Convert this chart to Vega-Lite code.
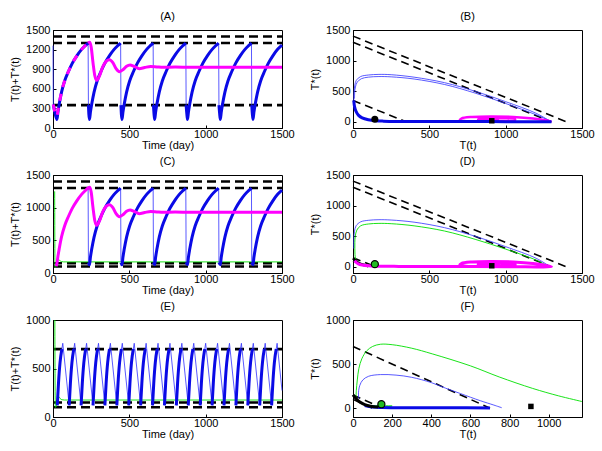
{
"$schema": "https://vega.github.io/schema/vega-lite/v6.json",
"background": "white",
"padding": {"left": 9, "top": 10, "right": 5, "bottom": 5},
"config": {
  "view": {"stroke": "black", "strokeWidth": 1},
  "font": "Liberation Sans",
  "title": {"fontSize": 11, "font": "Liberation Sans", "fontWeight": "normal", "offset": 2, "color": "black"},
  "axis": {"domainColor": "black", "tickColor": "black", "labelColor": "black", "titleColor": "black", "labelFont": "Liberation Sans", "titleFont": "Liberation Sans", "labelFontSize": 11, "titleFontSize": 11, "titleFontWeight": "normal", "grid": false, "tickSize": -3, "labelPadding": 6, "labelFlush": false, "labelOverlap": false},
  "axisX": {"titlePadding": 0, "labelPadding": 3},
  "axisY": {"titlePadding": 5}
},
"datasets": {
  "A_thr": [{"g":1,"t":0,"v":1400},{"g":1,"t":1500,"v":1400},{"g":2,"t":0,"v":1300},{"g":2,"t":1500,"v":1300},{"g":3,"t":0,"v":350},{"g":3,"t":1500,"v":350}],
  "A_thin": [{"g":1,"t":0,"v":1260},{"g":1,"t":2,"v":360},{"g":2,"t":230,"v":1300},{"g":2,"t":232,"v":350},{"g":3,"t":443,"v":1300},{"g":3,"t":445,"v":350},{"g":4,"t":656,"v":1300},{"g":4,"t":658,"v":350},{"g":5,"t":870,"v":1300},{"g":5,"t":872,"v":350},{"g":6,"t":1085,"v":1300},{"g":6,"t":1087,"v":350},{"g":7,"t":1300,"v":1300},{"g":7,"t":1302,"v":350}],
  "A_thick": [
    {"g":1,"t":2,"v":360},{"g":1,"t":12,"v":240},{"g":1,"t":26,"v":130},{"g":1,"t":32,"v":240},{"g":1,"t":41,"v":370},{"g":1,"t":56,"v":550},{"g":1,"t":76,"v":720},{"g":1,"t":101,"v":865},{"g":1,"t":126,"v":990},{"g":1,"t":156,"v":1105},{"g":1,"t":186,"v":1200},{"g":1,"t":211,"v":1260},{"g":1,"t":230,"v":1300},
    {"g":2,"t":232,"v":350},{"g":2,"t":235,"v":210},{"g":2,"t":239,"v":130},{"g":2,"t":245,"v":240},{"g":2,"t":254,"v":370},{"g":2,"t":269,"v":550},{"g":2,"t":289,"v":720},{"g":2,"t":314,"v":865},{"g":2,"t":339,"v":990},{"g":2,"t":369,"v":1105},{"g":2,"t":399,"v":1200},{"g":2,"t":424,"v":1260},{"g":2,"t":443,"v":1300},
    {"g":3,"t":445,"v":350},{"g":3,"t":448,"v":210},{"g":3,"t":452,"v":130},{"g":3,"t":458,"v":240},{"g":3,"t":467,"v":370},{"g":3,"t":482,"v":550},{"g":3,"t":502,"v":720},{"g":3,"t":527,"v":865},{"g":3,"t":552,"v":990},{"g":3,"t":582,"v":1105},{"g":3,"t":612,"v":1200},{"g":3,"t":637,"v":1260},{"g":3,"t":656,"v":1300},
    {"g":4,"t":658,"v":350},{"g":4,"t":662,"v":210},{"g":4,"t":666,"v":130},{"g":4,"t":672,"v":240},{"g":4,"t":681,"v":370},{"g":4,"t":696,"v":550},{"g":4,"t":716,"v":720},{"g":4,"t":741,"v":865},{"g":4,"t":766,"v":990},{"g":4,"t":796,"v":1105},{"g":4,"t":826,"v":1200},{"g":4,"t":851,"v":1260},{"g":4,"t":870,"v":1300},
    {"g":5,"t":872,"v":350},{"g":5,"t":877,"v":210},{"g":5,"t":881,"v":130},{"g":5,"t":887,"v":240},{"g":5,"t":896,"v":370},{"g":5,"t":911,"v":550},{"g":5,"t":931,"v":720},{"g":5,"t":956,"v":865},{"g":5,"t":981,"v":990},{"g":5,"t":1011,"v":1105},{"g":5,"t":1041,"v":1200},{"g":5,"t":1066,"v":1260},{"g":5,"t":1085,"v":1300},
    {"g":6,"t":1087,"v":350},{"g":6,"t":1092,"v":210},{"g":6,"t":1096,"v":130},{"g":6,"t":1102,"v":240},{"g":6,"t":1111,"v":370},{"g":6,"t":1126,"v":550},{"g":6,"t":1146,"v":720},{"g":6,"t":1171,"v":865},{"g":6,"t":1196,"v":990},{"g":6,"t":1226,"v":1105},{"g":6,"t":1256,"v":1200},{"g":6,"t":1281,"v":1260},{"g":6,"t":1300,"v":1300},
    {"g":7,"t":1302,"v":350},{"g":7,"t":1306,"v":210},{"g":7,"t":1310,"v":130},{"g":7,"t":1316,"v":240},{"g":7,"t":1325,"v":370},{"g":7,"t":1340,"v":550},{"g":7,"t":1360,"v":720},{"g":7,"t":1385,"v":865},{"g":7,"t":1410,"v":990},{"g":7,"t":1440,"v":1105},{"g":7,"t":1470,"v":1200},{"g":7,"t":1500,"v":1268}
  ],
  "A_mag1": [{"t":2,"v":360},{"t":12,"v":250},{"t":26,"v":180},{"t":32,"v":260},{"t":41,"v":380},{"t":56,"v":555},{"t":76,"v":720},{"t":101,"v":865},{"t":126,"v":990},{"t":156,"v":1105},{"t":186,"v":1200},{"t":211,"v":1260},{"t":230,"v":1300}],
  "A_mag2": [{"t":230,"v":1300},{"t":240,"v":1312},{"t":250,"v":1240},{"t":262,"v":1000},{"t":274,"v":800},{"t":287,"v":730},{"t":303,"v":790},{"t":325,"v":930},{"t":348,"v":1020},{"t":370,"v":1045},{"t":392,"v":1000},{"t":413,"v":910},{"t":435,"v":862},{"t":460,"v":895},{"t":482,"v":945},{"t":505,"v":965},{"t":530,"v":945},{"t":565,"v":908},{"t":600,"v":925},{"t":640,"v":942},{"t":680,"v":935},{"t":720,"v":928},{"t":800,"v":933},{"t":900,"v":930},{"t":1500,"v":930}],
  "C_thr": [{"g":1,"t":0,"v":1400},{"g":1,"t":1500,"v":1400},{"g":2,"t":0,"v":1300},{"g":2,"t":1500,"v":1300},{"g":3,"t":0,"v":150},{"g":3,"t":1500,"v":150},{"g":4,"t":0,"v":100},{"g":4,"t":1500,"v":100}],
  "C_thin": [{"g":2,"t":230,"v":1300},{"g":2,"t":232,"v":160},{"g":3,"t":443,"v":1300},{"g":3,"t":445,"v":160},{"g":4,"t":656,"v":1300},{"g":4,"t":658,"v":160},{"g":5,"t":870,"v":1300},{"g":5,"t":872,"v":160},{"g":6,"t":1085,"v":1300},{"g":6,"t":1087,"v":160},{"g":7,"t":1300,"v":1300},{"g":7,"t":1302,"v":160}],
  "C_thick": [
    {"g":2,"t":232,"v":160},{"g":2,"t":239,"v":125},{"g":2,"t":245,"v":240},{"g":2,"t":254,"v":370},{"g":2,"t":269,"v":550},{"g":2,"t":289,"v":720},{"g":2,"t":314,"v":865},{"g":2,"t":339,"v":990},{"g":2,"t":369,"v":1105},{"g":2,"t":399,"v":1200},{"g":2,"t":424,"v":1260},{"g":2,"t":443,"v":1300},
    {"g":3,"t":445,"v":160},{"g":3,"t":452,"v":125},{"g":3,"t":458,"v":240},{"g":3,"t":467,"v":370},{"g":3,"t":482,"v":550},{"g":3,"t":502,"v":720},{"g":3,"t":527,"v":865},{"g":3,"t":552,"v":990},{"g":3,"t":582,"v":1105},{"g":3,"t":612,"v":1200},{"g":3,"t":637,"v":1260},{"g":3,"t":656,"v":1300},
    {"g":4,"t":658,"v":160},{"g":4,"t":666,"v":125},{"g":4,"t":672,"v":240},{"g":4,"t":681,"v":370},{"g":4,"t":696,"v":550},{"g":4,"t":716,"v":720},{"g":4,"t":741,"v":865},{"g":4,"t":766,"v":990},{"g":4,"t":796,"v":1105},{"g":4,"t":826,"v":1200},{"g":4,"t":851,"v":1260},{"g":4,"t":870,"v":1300},
    {"g":5,"t":872,"v":160},{"g":5,"t":881,"v":125},{"g":5,"t":887,"v":240},{"g":5,"t":896,"v":370},{"g":5,"t":911,"v":550},{"g":5,"t":931,"v":720},{"g":5,"t":956,"v":865},{"g":5,"t":981,"v":990},{"g":5,"t":1011,"v":1105},{"g":5,"t":1041,"v":1200},{"g":5,"t":1066,"v":1260},{"g":5,"t":1085,"v":1300},
    {"g":6,"t":1087,"v":160},{"g":6,"t":1096,"v":125},{"g":6,"t":1102,"v":240},{"g":6,"t":1111,"v":370},{"g":6,"t":1126,"v":550},{"g":6,"t":1146,"v":720},{"g":6,"t":1171,"v":865},{"g":6,"t":1196,"v":990},{"g":6,"t":1226,"v":1105},{"g":6,"t":1256,"v":1200},{"g":6,"t":1281,"v":1260},{"g":6,"t":1300,"v":1300},
    {"g":7,"t":1302,"v":160},{"g":7,"t":1310,"v":125},{"g":7,"t":1316,"v":240},{"g":7,"t":1325,"v":370},{"g":7,"t":1340,"v":550},{"g":7,"t":1360,"v":720},{"g":7,"t":1385,"v":865},{"g":7,"t":1410,"v":990},{"g":7,"t":1440,"v":1105},{"g":7,"t":1470,"v":1200},{"g":7,"t":1500,"v":1268}
  ],
  "C_mag": [{"t":20,"v":105},{"t":26,"v":150},{"t":32,"v":250},{"t":41,"v":375},{"t":56,"v":555},{"t":76,"v":720},{"t":101,"v":865},{"t":126,"v":990},{"t":156,"v":1105},{"t":186,"v":1200},{"t":211,"v":1260},{"t":230,"v":1300},{"t":240,"v":1312},{"t":250,"v":1240},{"t":262,"v":1000},{"t":274,"v":800},{"t":287,"v":730},{"t":303,"v":790},{"t":325,"v":930},{"t":348,"v":1020},{"t":370,"v":1045},{"t":392,"v":1000},{"t":413,"v":910},{"t":435,"v":862},{"t":460,"v":895},{"t":482,"v":945},{"t":505,"v":965},{"t":530,"v":945},{"t":565,"v":908},{"t":600,"v":925},{"t":640,"v":942},{"t":680,"v":935},{"t":720,"v":928},{"t":800,"v":933},{"t":900,"v":930},{"t":1500,"v":930}],
  "C_green": [{"t":11,"v":1250},{"t":13,"v":90},{"t":20,"v":100},{"t":28,"v":170},{"t":36,"v":205},{"t":45,"v":190},{"t":55,"v":175},{"t":70,"v":170},{"t":1500,"v":170}],
  "E_thr": [{"g":1,"t":0,"v":700},{"g":1,"t":1500,"v":700},{"g":2,"t":0,"v":150},{"g":2,"t":1500,"v":150},{"g":3,"t":0,"v":100},{"g":3,"t":1500,"v":100}],
  "E_green": [{"t":12,"v":1000},{"t":15,"v":100},{"t":22,"v":110},{"t":30,"v":180},{"t":38,"v":210},{"t":47,"v":190},{"t":58,"v":178},{"t":75,"v":175},{"t":1500,"v":175}],
  "E_thick": [
    {"g":0,"t":28,"v":120},{"g":0,"t":36,"v":350},{"g":0,"t":46,"v":560},{"g":0,"t":58,"v":700},
    {"g":1,"t":106,"v":120},{"g":1,"t":114,"v":350},{"g":1,"t":124,"v":560},{"g":1,"t":136,"v":700},
    {"g":2,"t":184,"v":120},{"g":2,"t":192,"v":350},{"g":2,"t":202,"v":560},{"g":2,"t":214,"v":700},
    {"g":3,"t":262,"v":120},{"g":3,"t":270,"v":350},{"g":3,"t":280,"v":560},{"g":3,"t":292,"v":700},
    {"g":4,"t":340,"v":120},{"g":4,"t":348,"v":350},{"g":4,"t":358,"v":560},{"g":4,"t":370,"v":700},
    {"g":5,"t":418,"v":120},{"g":5,"t":426,"v":350},{"g":5,"t":436,"v":560},{"g":5,"t":448,"v":700},
    {"g":6,"t":496,"v":120},{"g":6,"t":504,"v":350},{"g":6,"t":514,"v":560},{"g":6,"t":526,"v":700},
    {"g":7,"t":574,"v":120},{"g":7,"t":582,"v":350},{"g":7,"t":592,"v":560},{"g":7,"t":604,"v":700},
    {"g":8,"t":652,"v":120},{"g":8,"t":660,"v":350},{"g":8,"t":670,"v":560},{"g":8,"t":682,"v":700},
    {"g":9,"t":730,"v":120},{"g":9,"t":738,"v":350},{"g":9,"t":748,"v":560},{"g":9,"t":760,"v":700},
    {"g":10,"t":808,"v":120},{"g":10,"t":816,"v":350},{"g":10,"t":826,"v":560},{"g":10,"t":838,"v":700},
    {"g":11,"t":886,"v":120},{"g":11,"t":894,"v":350},{"g":11,"t":904,"v":560},{"g":11,"t":916,"v":700},
    {"g":12,"t":964,"v":120},{"g":12,"t":972,"v":350},{"g":12,"t":982,"v":560},{"g":12,"t":994,"v":700},
    {"g":13,"t":1042,"v":120},{"g":13,"t":1050,"v":350},{"g":13,"t":1060,"v":560},{"g":13,"t":1072,"v":700},
    {"g":14,"t":1120,"v":120},{"g":14,"t":1128,"v":350},{"g":14,"t":1138,"v":560},{"g":14,"t":1150,"v":700},
    {"g":15,"t":1198,"v":120},{"g":15,"t":1206,"v":350},{"g":15,"t":1216,"v":560},{"g":15,"t":1228,"v":700},
    {"g":16,"t":1276,"v":120},{"g":16,"t":1284,"v":350},{"g":16,"t":1294,"v":560},{"g":16,"t":1306,"v":700},
    {"g":17,"t":1354,"v":120},{"g":17,"t":1362,"v":350},{"g":17,"t":1372,"v":560},{"g":17,"t":1384,"v":700},
    {"g":18,"t":1432,"v":120},{"g":18,"t":1440,"v":350},{"g":18,"t":1450,"v":560},{"g":18,"t":1462,"v":700}
  ],
  "E_thin": [
    {"g":0,"t":58,"v":700},{"g":0,"t":64,"v":760},{"g":0,"t":106,"v":120},
    {"g":1,"t":136,"v":700},{"g":1,"t":142,"v":760},{"g":1,"t":184,"v":120},
    {"g":2,"t":214,"v":700},{"g":2,"t":220,"v":760},{"g":2,"t":262,"v":120},
    {"g":3,"t":292,"v":700},{"g":3,"t":298,"v":760},{"g":3,"t":340,"v":120},
    {"g":4,"t":370,"v":700},{"g":4,"t":376,"v":760},{"g":4,"t":418,"v":120},
    {"g":5,"t":448,"v":700},{"g":5,"t":454,"v":760},{"g":5,"t":496,"v":120},
    {"g":6,"t":526,"v":700},{"g":6,"t":532,"v":760},{"g":6,"t":574,"v":120},
    {"g":7,"t":604,"v":700},{"g":7,"t":610,"v":760},{"g":7,"t":652,"v":120},
    {"g":8,"t":682,"v":700},{"g":8,"t":688,"v":760},{"g":8,"t":730,"v":120},
    {"g":9,"t":760,"v":700},{"g":9,"t":766,"v":760},{"g":9,"t":808,"v":120},
    {"g":10,"t":838,"v":700},{"g":10,"t":844,"v":760},{"g":10,"t":886,"v":120},
    {"g":11,"t":916,"v":700},{"g":11,"t":922,"v":760},{"g":11,"t":964,"v":120},
    {"g":12,"t":994,"v":700},{"g":12,"t":1000,"v":760},{"g":12,"t":1042,"v":120},
    {"g":13,"t":1072,"v":700},{"g":13,"t":1078,"v":760},{"g":13,"t":1120,"v":120},
    {"g":14,"t":1150,"v":700},{"g":14,"t":1156,"v":760},{"g":14,"t":1198,"v":120},
    {"g":15,"t":1228,"v":700},{"g":15,"t":1234,"v":760},{"g":15,"t":1276,"v":120},
    {"g":16,"t":1306,"v":700},{"g":16,"t":1312,"v":760},{"g":16,"t":1354,"v":120},
    {"g":17,"t":1384,"v":700},{"g":17,"t":1390,"v":760},{"g":17,"t":1432,"v":120},
    {"g":18,"t":1462,"v":700},{"g":18,"t":1468,"v":760},{"g":18,"t":1500,"v":273}
  ],
  "B_dash": [{"g":1,"T":0,"S":1400},{"g":1,"T":1400,"S":0},{"g":2,"T":0,"S":1300},{"g":2,"T":1300,"S":0},{"g":3,"T":0,"S":350},{"g":3,"T":350,"S":0}],
  "B_thin": [
    {"g":1,"T":5,"S":350},{"g":1,"T":5,"S":420},{"g":1,"T":7,"S":500},{"g":1,"T":12,"S":600},{"g":1,"T":22,"S":680},{"g":1,"T":50,"S":740},{"g":1,"T":100,"S":765},{"g":1,"T":170,"S":775},{"g":1,"T":250,"S":770},{"g":1,"T":400,"S":730},{"g":1,"T":600,"S":640},{"g":1,"T":800,"S":500},{"g":1,"T":1000,"S":330},{"g":1,"T":1200,"S":140},{"g":1,"T":1295,"S":5},
    {"g":2,"T":10,"S":380},{"g":2,"T":11,"S":480},{"g":2,"T":16,"S":570},{"g":2,"T":28,"S":650},{"g":2,"T":55,"S":705},{"g":2,"T":100,"S":730},{"g":2,"T":170,"S":740},{"g":2,"T":250,"S":735},{"g":2,"T":400,"S":700},{"g":2,"T":600,"S":610},{"g":2,"T":800,"S":470},{"g":2,"T":1000,"S":300},{"g":2,"T":1200,"S":115},{"g":2,"T":1300,"S":5}
  ],
  "B_thick": [{"T":5,"S":350},{"T":10,"S":250},{"T":20,"S":170},{"T":35,"S":110},{"T":60,"S":65},{"T":100,"S":35},{"T":150,"S":18},{"T":200,"S":12},{"T":300,"S":8},{"T":500,"S":6},{"T":800,"S":5},{"T":1000,"S":4},{"T":1300,"S":3}],
  "B_mag": [{"T":1300,"S":3},{"T":1260,"S":25},{"T":1180,"S":55},{"T":1050,"S":80},{"T":900,"S":88},{"T":780,"S":80},{"T":710,"S":55},{"T":700,"S":30},{"T":740,"S":12},{"T":850,"S":5},{"T":980,"S":10},{"T":1060,"S":25},{"T":1060,"S":45},{"T":980,"S":58},{"T":880,"S":57},{"T":820,"S":42},{"T":830,"S":25},{"T":890,"S":16},{"T":950,"S":22},{"T":940,"S":32},{"T":910,"S":25}],
  "P_circle": [{"T":143,"S":44}],
  "P_square": [{"T":909,"S":18}],
  "D_dash": [{"g":1,"T":0,"S":1400},{"g":1,"T":1400,"S":0},{"g":2,"T":0,"S":1300},{"g":2,"T":1300,"S":0},{"g":3,"T":0,"S":150},{"g":3,"T":150,"S":0},{"g":4,"T":0,"S":100},{"g":4,"T":100,"S":0}],
  "D_blue": [{"T":5,"S":300},{"T":5,"S":380},{"T":6,"S":480},{"T":10,"S":580},{"T":20,"S":670},{"T":50,"S":735},{"T":100,"S":760},{"T":170,"S":770},{"T":250,"S":765},{"T":400,"S":730},{"T":600,"S":640},{"T":800,"S":500},{"T":1000,"S":330},{"T":1200,"S":140},{"T":1290,"S":5}],
  "D_green": [{"T":18,"S":110},{"T":13,"S":200},{"T":12,"S":300},{"T":12,"S":400},{"T":15,"S":500},{"T":25,"S":600},{"T":50,"S":670},{"T":100,"S":700},{"T":170,"S":710},{"T":250,"S":705},{"T":400,"S":670},{"T":600,"S":585},{"T":800,"S":450},{"T":1000,"S":290},{"T":1200,"S":110},{"T":1280,"S":5}],
  "D_black": [{"T":0,"S":140},{"T":15,"S":105},{"T":35,"S":65},{"T":60,"S":38},{"T":85,"S":25}],
  "D_mag": [{"T":12,"S":105},{"T":20,"S":75},{"T":35,"S":48},{"T":60,"S":30},{"T":100,"S":18},{"T":150,"S":12},{"T":300,"S":8},{"T":600,"S":6},{"T":1000,"S":4},{"T":1300,"S":3},{"T":1260,"S":25},{"T":1180,"S":55},{"T":1050,"S":80},{"T":900,"S":88},{"T":780,"S":80},{"T":710,"S":55},{"T":700,"S":30},{"T":740,"S":12},{"T":850,"S":5},{"T":980,"S":10},{"T":1060,"S":25},{"T":1060,"S":45},{"T":980,"S":58},{"T":880,"S":57},{"T":820,"S":42},{"T":830,"S":25},{"T":890,"S":16},{"T":950,"S":22},{"T":940,"S":32},{"T":910,"S":25}],
  "F_dash": [{"g":1,"T":0,"S":700},{"g":1,"T":700,"S":0},{"g":2,"T":0,"S":150},{"g":2,"T":150,"S":0},{"g":3,"T":0,"S":100},{"g":3,"T":100,"S":0}],
  "F_green": [{"g":1,"T":15,"S":112},{"g":1,"T":17,"S":200},{"g":1,"T":22,"S":320},{"g":1,"T":30,"S":450},{"g":1,"T":45,"S":560},{"g":1,"T":70,"S":650},{"g":1,"T":100,"S":700},{"g":1,"T":140,"S":725},{"g":1,"T":200,"S":720},{"g":1,"T":300,"S":680},{"g":1,"T":405,"S":616},{"g":1,"T":600,"S":480},{"g":1,"T":747,"S":354},{"g":1,"T":918,"S":224},{"g":1,"T":1050,"S":140},{"g":1,"T":1171,"S":75},
    {"g":2,"T":40,"S":60},{"g":2,"T":80,"S":32},{"g":2,"T":150,"S":28},{"g":2,"T":200,"S":25},{"g":2,"T":160,"S":12},{"g":2,"T":100,"S":15}],
  "F_blue": [{"T":30,"S":110},{"T":28,"S":150},{"T":29,"S":200},{"T":35,"S":260},{"T":50,"S":320},{"T":80,"S":362},{"T":140,"S":381},{"T":220,"S":375},{"T":300,"S":350},{"T":400,"S":290},{"T":473,"S":227},{"T":550,"S":165},{"T":650,"S":85},{"T":720,"S":35},{"T":760,"S":5}],
  "F_thick": [{"T":60,"S":30},{"T":90,"S":15},{"T":150,"S":8},{"T":300,"S":5},{"T":500,"S":4},{"T":700,"S":3}],
  "F_black": [{"T":0,"S":150},{"T":15,"S":110},{"T":35,"S":70},{"T":60,"S":40},{"T":90,"S":22},{"T":130,"S":12}],
  "F_circle": [{"T":145,"S":45}],
  "F_square": [{"T":909,"S":20}]
},
"columns": 2,
"spacing": {"row": 47, "column": 71},
"bounds": "flush",
"concat": [
  {
    "title": "(A)", "width": 229, "height": 98,
    "encoding": {
      "x": {"field": "t", "type": "quantitative", "scale": {"domain": [0, 1500], "nice": false}, "axis": {"title": "Time (day)", "values": [0, 500, 1000, 1500], "format": "d"}},
      "y": {"field": "v", "type": "quantitative", "scale": {"domain": [0, 1500], "nice": false}, "axis": {"title": "T(t)+T*(t)", "values": [0, 300, 600, 900, 1200, 1500], "format": "d"}}
    },
    "layer": [
      {"data": {"name": "A_thr"}, "mark": {"type": "line", "color": "black", "strokeWidth": 2.6, "strokeDash": [9, 5], "order": false}, "encoding": {"detail": {"field": "g"}}},
      {"data": {"name": "A_thin"}, "mark": {"type": "line", "color": "#3030ff", "strokeWidth": 0.8, "order": false}, "encoding": {"detail": {"field": "g"}}},
      {"data": {"name": "A_thick"}, "mark": {"type": "line", "color": "#0a0ae6", "strokeWidth": 3, "interpolate": "monotone", "order": false}, "encoding": {"detail": {"field": "g"}}},
      {"data": {"name": "A_mag1"}, "mark": {"type": "line", "color": "#ff00ff", "strokeWidth": 3, "strokeDash": [7, 7], "interpolate": "monotone", "order": false}},
      {"data": {"name": "A_mag2"}, "mark": {"type": "line", "color": "#ff00ff", "strokeWidth": 3, "interpolate": "monotone", "order": false}}
    ]
  },
  {
    "title": "(B)", "width": 229, "height": 98,
    "encoding": {
      "x": {"field": "T", "type": "quantitative", "scale": {"domain": [0, 1500], "nice": false}, "axis": {"title": "T(t)", "values": [0, 500, 1000, 1500], "format": "d"}},
      "y": {"field": "S", "type": "quantitative", "scale": {"domain": [-100, 1500], "nice": false}, "axis": {"title": "T*(t)", "values": [0, 500, 1000, 1500], "format": "d"}}
    },
    "layer": [
      {"data": {"name": "B_dash"}, "mark": {"type": "line", "color": "black", "strokeWidth": 1.6, "strokeDash": [8, 5], "order": false}, "encoding": {"detail": {"field": "g"}}},
      {"data": {"name": "B_thin"}, "mark": {"type": "line", "color": "#3030ff", "strokeWidth": 0.8, "interpolate": "catmull-rom", "order": false}, "encoding": {"detail": {"field": "g"}}},
      {"data": {"name": "B_mag"}, "mark": {"type": "line", "color": "#ff00ff", "strokeWidth": 2.5, "interpolate": "catmull-rom", "order": false}},
      {"data": {"name": "B_thick"}, "mark": {"type": "line", "color": "#0a0ae6", "strokeWidth": 3, "interpolate": "catmull-rom", "order": false}},
      {"data": {"name": "P_circle"}, "mark": {"type": "circle", "size": 50, "color": "black", "opacity": 1}},
      {"data": {"name": "P_square"}, "mark": {"type": "square", "size": 30, "color": "black", "opacity": 1}}
    ]
  },
  {
    "title": "(C)", "width": 229, "height": 98,
    "encoding": {
      "x": {"field": "t", "type": "quantitative", "scale": {"domain": [0, 1500], "nice": false}, "axis": {"title": "Time (day)", "values": [0, 500, 1000, 1500], "format": "d"}},
      "y": {"field": "v", "type": "quantitative", "scale": {"domain": [0, 1500], "nice": false}, "axis": {"title": "T(t)+T*(t)", "values": [0, 500, 1000, 1500], "format": "d"}}
    },
    "layer": [
      {"data": {"name": "C_thr"}, "mark": {"type": "line", "color": "black", "strokeWidth": 2.6, "strokeDash": [9, 5], "order": false}, "encoding": {"detail": {"field": "g"}}},
      {"data": {"name": "C_green"}, "mark": {"type": "line", "color": "#00e000", "strokeWidth": 0.9, "interpolate": "monotone", "order": false}},
      {"data": {"name": "C_thin"}, "mark": {"type": "line", "color": "#3030ff", "strokeWidth": 0.8, "order": false}, "encoding": {"detail": {"field": "g"}}},
      {"data": {"name": "C_thick"}, "mark": {"type": "line", "color": "#0a0ae6", "strokeWidth": 3, "interpolate": "monotone", "order": false}, "encoding": {"detail": {"field": "g"}}},
      {"data": {"name": "C_mag"}, "mark": {"type": "line", "color": "#ff00ff", "strokeWidth": 3, "interpolate": "monotone", "order": false}}
    ]
  },
  {
    "title": "(D)", "width": 229, "height": 98,
    "encoding": {
      "x": {"field": "T", "type": "quantitative", "scale": {"domain": [0, 1500], "nice": false}, "axis": {"title": "T(t)", "values": [0, 500, 1000, 1500], "format": "d"}},
      "y": {"field": "S", "type": "quantitative", "scale": {"domain": [-100, 1500], "nice": false}, "axis": {"title": "T*(t)", "values": [0, 500, 1000, 1500], "format": "d"}}
    },
    "layer": [
      {"data": {"name": "D_dash"}, "mark": {"type": "line", "color": "black", "strokeWidth": 1.6, "strokeDash": [8, 5], "order": false}, "encoding": {"detail": {"field": "g"}}},
      {"data": {"name": "D_blue"}, "mark": {"type": "line", "color": "#3030ff", "strokeWidth": 0.8, "interpolate": "catmull-rom", "order": false}},
      {"data": {"name": "D_green"}, "mark": {"type": "line", "color": "#00e000", "strokeWidth": 0.9, "interpolate": "catmull-rom", "order": false}},
      {"data": {"name": "D_black"}, "mark": {"type": "line", "color": "black", "strokeWidth": 2.5, "interpolate": "catmull-rom", "order": false}},
      {"data": {"name": "D_mag"}, "mark": {"type": "line", "color": "#ff00ff", "strokeWidth": 3, "interpolate": "catmull-rom", "order": false}},
      {"data": {"name": "P_circle"}, "mark": {"type": "point", "shape": "circle", "size": 50, "filled": true, "fill": "#22bb22", "stroke": "black", "strokeWidth": 1.2, "opacity": 1}},
      {"data": {"name": "P_square"}, "mark": {"type": "square", "size": 30, "color": "black", "opacity": 1}}
    ]
  },
  {
    "title": "(E)", "width": 229, "height": 97,
    "encoding": {
      "x": {"field": "t", "type": "quantitative", "scale": {"domain": [0, 1500], "nice": false}, "axis": {"title": "Time (day)", "values": [0, 500, 1000, 1500], "format": "d"}},
      "y": {"field": "v", "type": "quantitative", "scale": {"domain": [0, 1000], "nice": false}, "axis": {"title": "T(t)+T*(t)", "values": [0, 500, 1000], "format": "d"}}
    },
    "layer": [
      {"data": {"name": "E_thr"}, "mark": {"type": "line", "color": "black", "strokeWidth": 2.6, "strokeDash": [9, 5], "order": false}, "encoding": {"detail": {"field": "g"}}},
      {"data": {"name": "E_green"}, "mark": {"type": "line", "color": "#00e000", "strokeWidth": 0.9, "interpolate": "monotone", "order": false}},
      {"data": {"name": "E_thin"}, "mark": {"type": "line", "color": "#3030ff", "strokeWidth": 0.8, "order": false}, "encoding": {"detail": {"field": "g"}}},
      {"data": {"name": "E_thick"}, "mark": {"type": "line", "color": "#0a0ae6", "strokeWidth": 3, "interpolate": "monotone", "order": false}, "encoding": {"detail": {"field": "g"}}}
    ]
  },
  {
    "title": "(F)", "width": 229, "height": 97,
    "encoding": {
      "x": {"field": "T", "type": "quantitative", "scale": {"domain": [0, 1170], "nice": false}, "axis": {"title": "T(t)", "values": [0, 200, 400, 600, 800, 1000], "format": "d"}},
      "y": {"field": "S", "type": "quantitative", "scale": {"domain": [-100, 1000], "nice": false}, "axis": {"title": "T*(t)", "values": [0, 500, 1000], "format": "d"}}
    },
    "layer": [
      {"data": {"name": "F_dash"}, "mark": {"type": "line", "color": "black", "strokeWidth": 1.6, "strokeDash": [8, 5], "order": false}, "encoding": {"detail": {"field": "g"}}},
      {"data": {"name": "F_green"}, "mark": {"type": "line", "color": "#00e000", "strokeWidth": 0.9, "interpolate": "catmull-rom", "order": false, "clip": true}, "encoding": {"detail": {"field": "g"}}},
      {"data": {"name": "F_blue"}, "mark": {"type": "line", "color": "#3030ff", "strokeWidth": 0.8, "interpolate": "catmull-rom", "order": false}},
      {"data": {"name": "F_thick"}, "mark": {"type": "line", "color": "#0a0ae6", "strokeWidth": 3, "interpolate": "catmull-rom", "order": false}},
      {"data": {"name": "F_black"}, "mark": {"type": "line", "color": "black", "strokeWidth": 3, "interpolate": "catmull-rom", "order": false}},
      {"data": {"name": "F_circle"}, "mark": {"type": "point", "shape": "circle", "size": 50, "filled": true, "fill": "#22bb22", "stroke": "black", "strokeWidth": 1.2, "opacity": 1}},
      {"data": {"name": "F_square"}, "mark": {"type": "square", "size": 30, "color": "black", "opacity": 1}}
    ]
  }
]
}
